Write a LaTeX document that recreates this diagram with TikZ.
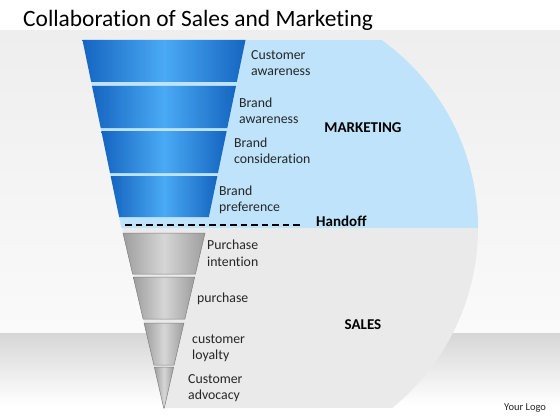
\documentclass[tikz,border=0pt]{standalone}
\usepackage{fontspec}
\setmainfont{Carlito}[Ligatures=NoCommon]
\usetikzlibrary{calc}

\definecolor{funnelDark}{HTML}{1565C0}
\definecolor{funnelLight}{HTML}{4AAAF5}
\definecolor{mktBlue}{HTML}{BEE3FA}
\definecolor{salesGrey}{HTML}{EAEAEA}
\definecolor{stepDark}{HTML}{9E9E9E}
\definecolor{stepLight}{HTML}{D6D6D6}
\definecolor{stepEdge}{HTML}{7F7F7F}
\definecolor{bgTop}{HTML}{EEEEEE}
\definecolor{bgBottom}{HTML}{FAFAFA}
\definecolor{floorGrey}{HTML}{D6D6D6}
\definecolor{labelText}{HTML}{262626}

\begin{document}
\begin{tikzpicture}[x=1pt,y=-1pt]
    % ==========================
    % 設定
    % ==========================
    \def\cx{164}   % 漏斗の中心
    \def\rad{231.5} % 右側の円弧の半径
    \tikzset{
        stage/.style={anchor=west, align=left, inner sep=0pt, text=labelText,
            font=\fontsize{13.8}{16.5}\selectfont}, % 段のラベル
        area/.style={anchor=base, inner sep=0pt,
            font=\fontsize{15}{18}\selectfont\bfseries}, % 部門名
        bluestep/.style={left color=funnelDark, right color=funnelDark, middle color=funnelLight},
        greystep/.style={left color=stepDark, right color=stepDark, middle color=stepLight,
            draw=stepEdge, line width=0.5pt},
        handoffline/.style={line width=2pt, dash pattern=on 6.5pt off 4pt}
    }
    \useasboundingbox (0,0) rectangle (560,420);

    % ==========================
    % 1. 背景
    % ==========================
    \fill[white] (0,0) rectangle (560,31);
    \shade[top color=bgTop, bottom color=bgBottom] (0,31) rectangle (560,333);
    \shade[top color=floorGrey, bottom color=white] (0,333) rectangle (560,405);
    \fill[white] (0,405) rectangle (560,420);

    \node[anchor=base west, inner sep=0pt, font=\fontsize{23.4}{28}\selectfont] (title)
        at (23,26.7) {Collaboration of Sales and Marketing};

    % ==========================
    % 2. MARKETING / SALES の領域
    % ==========================
    \coordinate (C) at (246.5,228); % 円弧の中心

    % 上: 水色
    \fill[mktBlue] (82.5,40) -- ($(C)+(-54.3:\rad)$)
        arc[start angle=-54.3, end angle=0, radius=\rad] -- (121.4,228) -- cycle;
    % 下: 灰色
    \fill[salesGrey] (122.3,228) -- ($(C)+(0:\rad)$)
        arc[start angle=0, end angle=51, radius=\rad] -- (\cx,408.2) -- cycle;

    % ==========================
    % 3. 漏斗
    % ==========================
    % 青い段 (マーケティング)
    \foreach \yt/\yb in {40/82, 86/128, 131/173, 176/217}{
        \pgfmathsetmacro{\wt}{81.5-0.207*(\yt-40)}
        \pgfmathsetmacro{\wb}{81.5-0.207*(\yb-40)}
        \shade[bluestep] (\cx-\wt,\yt) -- (\cx+\wt,\yt) -- (\cx+\wb,\yb) -- (\cx-\wb,\yb) -- cycle;
    }
    % 灰色の段 (セールス)
    \foreach \yt/\yb in {233/274, 277/319, 323/365, 367/408}{
        \pgfmathsetmacro{\wt}{max(41-0.234*(\yt-233),0)}
        \pgfmathsetmacro{\wb}{max(41-0.234*(\yb-233),0.3)}
        \shade[greystep] (\cx-\wt,\yt) -- (\cx+\wt,\yt) -- (\cx+\wb,\yb) -- (\cx-\wb,\yb) -- cycle;
    }

    % 引き渡しの破線
    \node[area, anchor=base west] (handoff) at (316,226.7) {Handoff};
    \coordinate (hoL) at (125,225);
    \coordinate (hoR) at (302,225);
    \draw[handoffline] (hoL) -- (hoR);

    % ==========================
    % 4. ラベル
    % ==========================
    \node[stage] (custAware)   at (251,63.2)  {Customer\\awareness};
    \node[stage] (brandAware)  at (239,111)   {Brand\\awareness};
    \node[stage] (brandCons)   at (234,151)   {Brand\\consideration};
    \node[stage] (brandPref)   at (219,200)   {Brand\\preference};
    \node[stage] (purchIntent) at (207,253.4) {Purchase\\intention};
    \node[stage, anchor=base west] (purch) at (197,302.3) {purchase};
    \node[stage] (custLoyal)   at (192,348)   {customer\\loyalty};
    \node[stage] (custAdvoc)   at (188,388.3) {Customer\\advocacy};

    \node[area] (marketing) at (363,132.7) {MARKETING};
    \node[area] (sales)     at (363,329)   {SALES};

    \node[anchor=base west, inner sep=0pt, text=labelText,
        font=\fontsize{10.5}{12}\selectfont] (logo) at (504,410) {Your Logo};
\end{tikzpicture}
\end{document}
